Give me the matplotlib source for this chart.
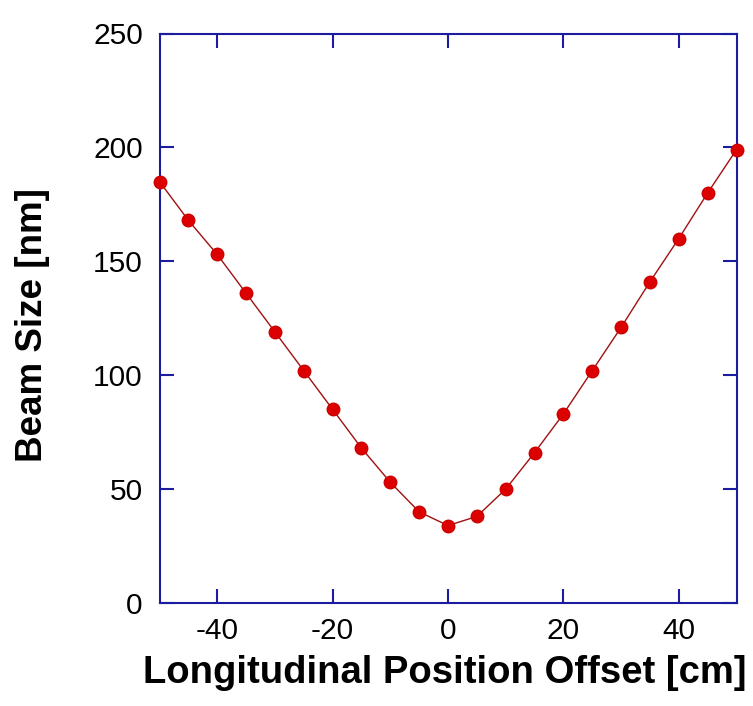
import matplotlib
matplotlib.use("Agg")
import matplotlib.pyplot as plt

offset_cm = [-50, -45, -40, -35, -30, -25, -20, -15, -10, -5, 0, 5, 10, 15, 20, 25, 30, 35, 40, 45, 50]
beam_size_nm = [185, 168, 153, 136, 119, 102, 85, 68, 53, 40, 34, 38, 50, 66, 83, 102, 121, 141, 160, 180, 199]
x_ticks = [-40, -20, 0, 20, 40]
y_ticks = [0, 50, 100, 150, 200, 250]

plt.rcParams['font.family'] = ['Liberation Sans', 'DejaVu Sans']
plt.rcParams['axes.unicode_minus'] = False

fig = plt.figure(figsize=(7.53, 7.06), dpi=100)
ax = fig.add_axes([159.5 / 753, 1 - 603 / 706, (736.5 - 159.5) / 753, (603 - 33.5) / 706])

ax.plot(offset_cm, beam_size_nm, color='#a01010', lw=1.0, zorder=2, clip_on=False)
ax.plot(offset_cm, beam_size_nm, linestyle='none', marker='o', markersize=9,
        markerfacecolor='#dd0000', markeredgecolor='#cc0000', zorder=3, clip_on=False)

ax.set_xlim(-50, 50)
ax.set_ylim(0, 250)
ax.set_xticks(x_ticks)
ax.set_yticks(y_ticks)

spine_c = '#1c1ca0'
for s in ax.spines.values():
    s.set_color(spine_c)
    s.set_linewidth(1.5)
ax.tick_params(direction='in', length=10, width=1.5, color=spine_c,
               top=True, right=True, labelsize=21.5, labelcolor='black')
ax.tick_params(axis='x', pad=10)
ax.tick_params(axis='y', pad=12)

fig.text(445 / 753, 1 - 673 / 706, 'Longitudinal Position Offset [cm]', fontsize=27.5,
         fontweight='bold', ha='center', va='center')
fig.text(33 / 753, 1 - 325 / 706, 'Beam Size [nm]', fontsize=26.5, fontweight='bold',
         rotation=90, ha='center', va='center')

fig.savefig('out.png', dpi=100)
